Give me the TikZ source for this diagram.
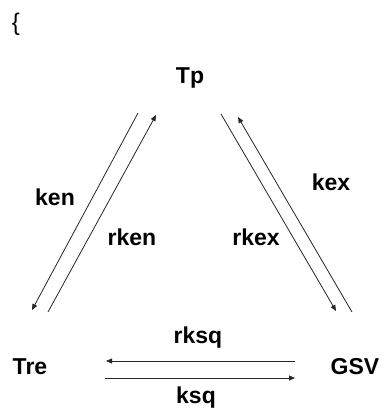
\documentclass[tikz,border=0pt]{standalone}
\usepackage{fontspec}
\setmainfont{Liberation Sans}
\usetikzlibrary{arrows.meta}
\begin{document}
\begin{tikzpicture}[x=1pt,y=-1pt,
  species/.style={font=\fontsize{23}{27}\selectfont\bfseries, anchor=base, inner sep=0pt},
  rate/.style={font=\fontsize{23}{27}\selectfont\bfseries, anchor=base, inner sep=0pt},
  flux/.style={draw=black!85, line width=0.8pt, -{Triangle[length=6pt,width=5pt]}}]
  \useasboundingbox (0,0) rectangle (385,414);

  % opening brace
  \node[font=\fontsize{24}{28}\selectfont, anchor=base, inner sep=0pt] (brace) at (16,31) {\{};

  % species
  \node[species] (tp)  at (190,84)  {Tp};
  \node[species] (tre) at (30,374)  {Tre};
  \node[species] (gsv) at (355,374) {GSV};

  % arrow end points
  \coordinate (en1) at (138,113);  \coordinate (en2) at (32,310);
  \coordinate (ren1) at (48,312);  \coordinate (ren2) at (156,115);
  \coordinate (rex1) at (221,114); \coordinate (rex2) at (336,311);
  \coordinate (ex1) at (352,312);  \coordinate (ex2) at (238,117);
  \coordinate (rsq1) at (295,361); \coordinate (rsq2) at (106,361);
  \coordinate (sq1) at (105,378);  \coordinate (sq2) at (295,378);

  % transitions
  \draw[flux] (en1) -- (en2);
  \draw[flux] (ren1) -- (ren2);
  \draw[flux] (rex1) -- (rex2);
  \draw[flux] (ex1) -- (ex2);
  \draw[flux] (rsq1) -- (rsq2);
  \draw[flux] (sq1) -- (sq2);

  % rate labels
  \node[rate] (ken)  at (55,205)  {ken};
  \node[rate] (rken) at (132,245) {rken};
  \node[rate] (kex)  at (331,190) {kex};
  \node[rate] (rkex) at (256,245) {rkex};
  \node[rate] (rksq) at (198,343) {rksq};
  \node[rate] (ksq)  at (196,403) {ksq};
\end{tikzpicture}
\end{document}
